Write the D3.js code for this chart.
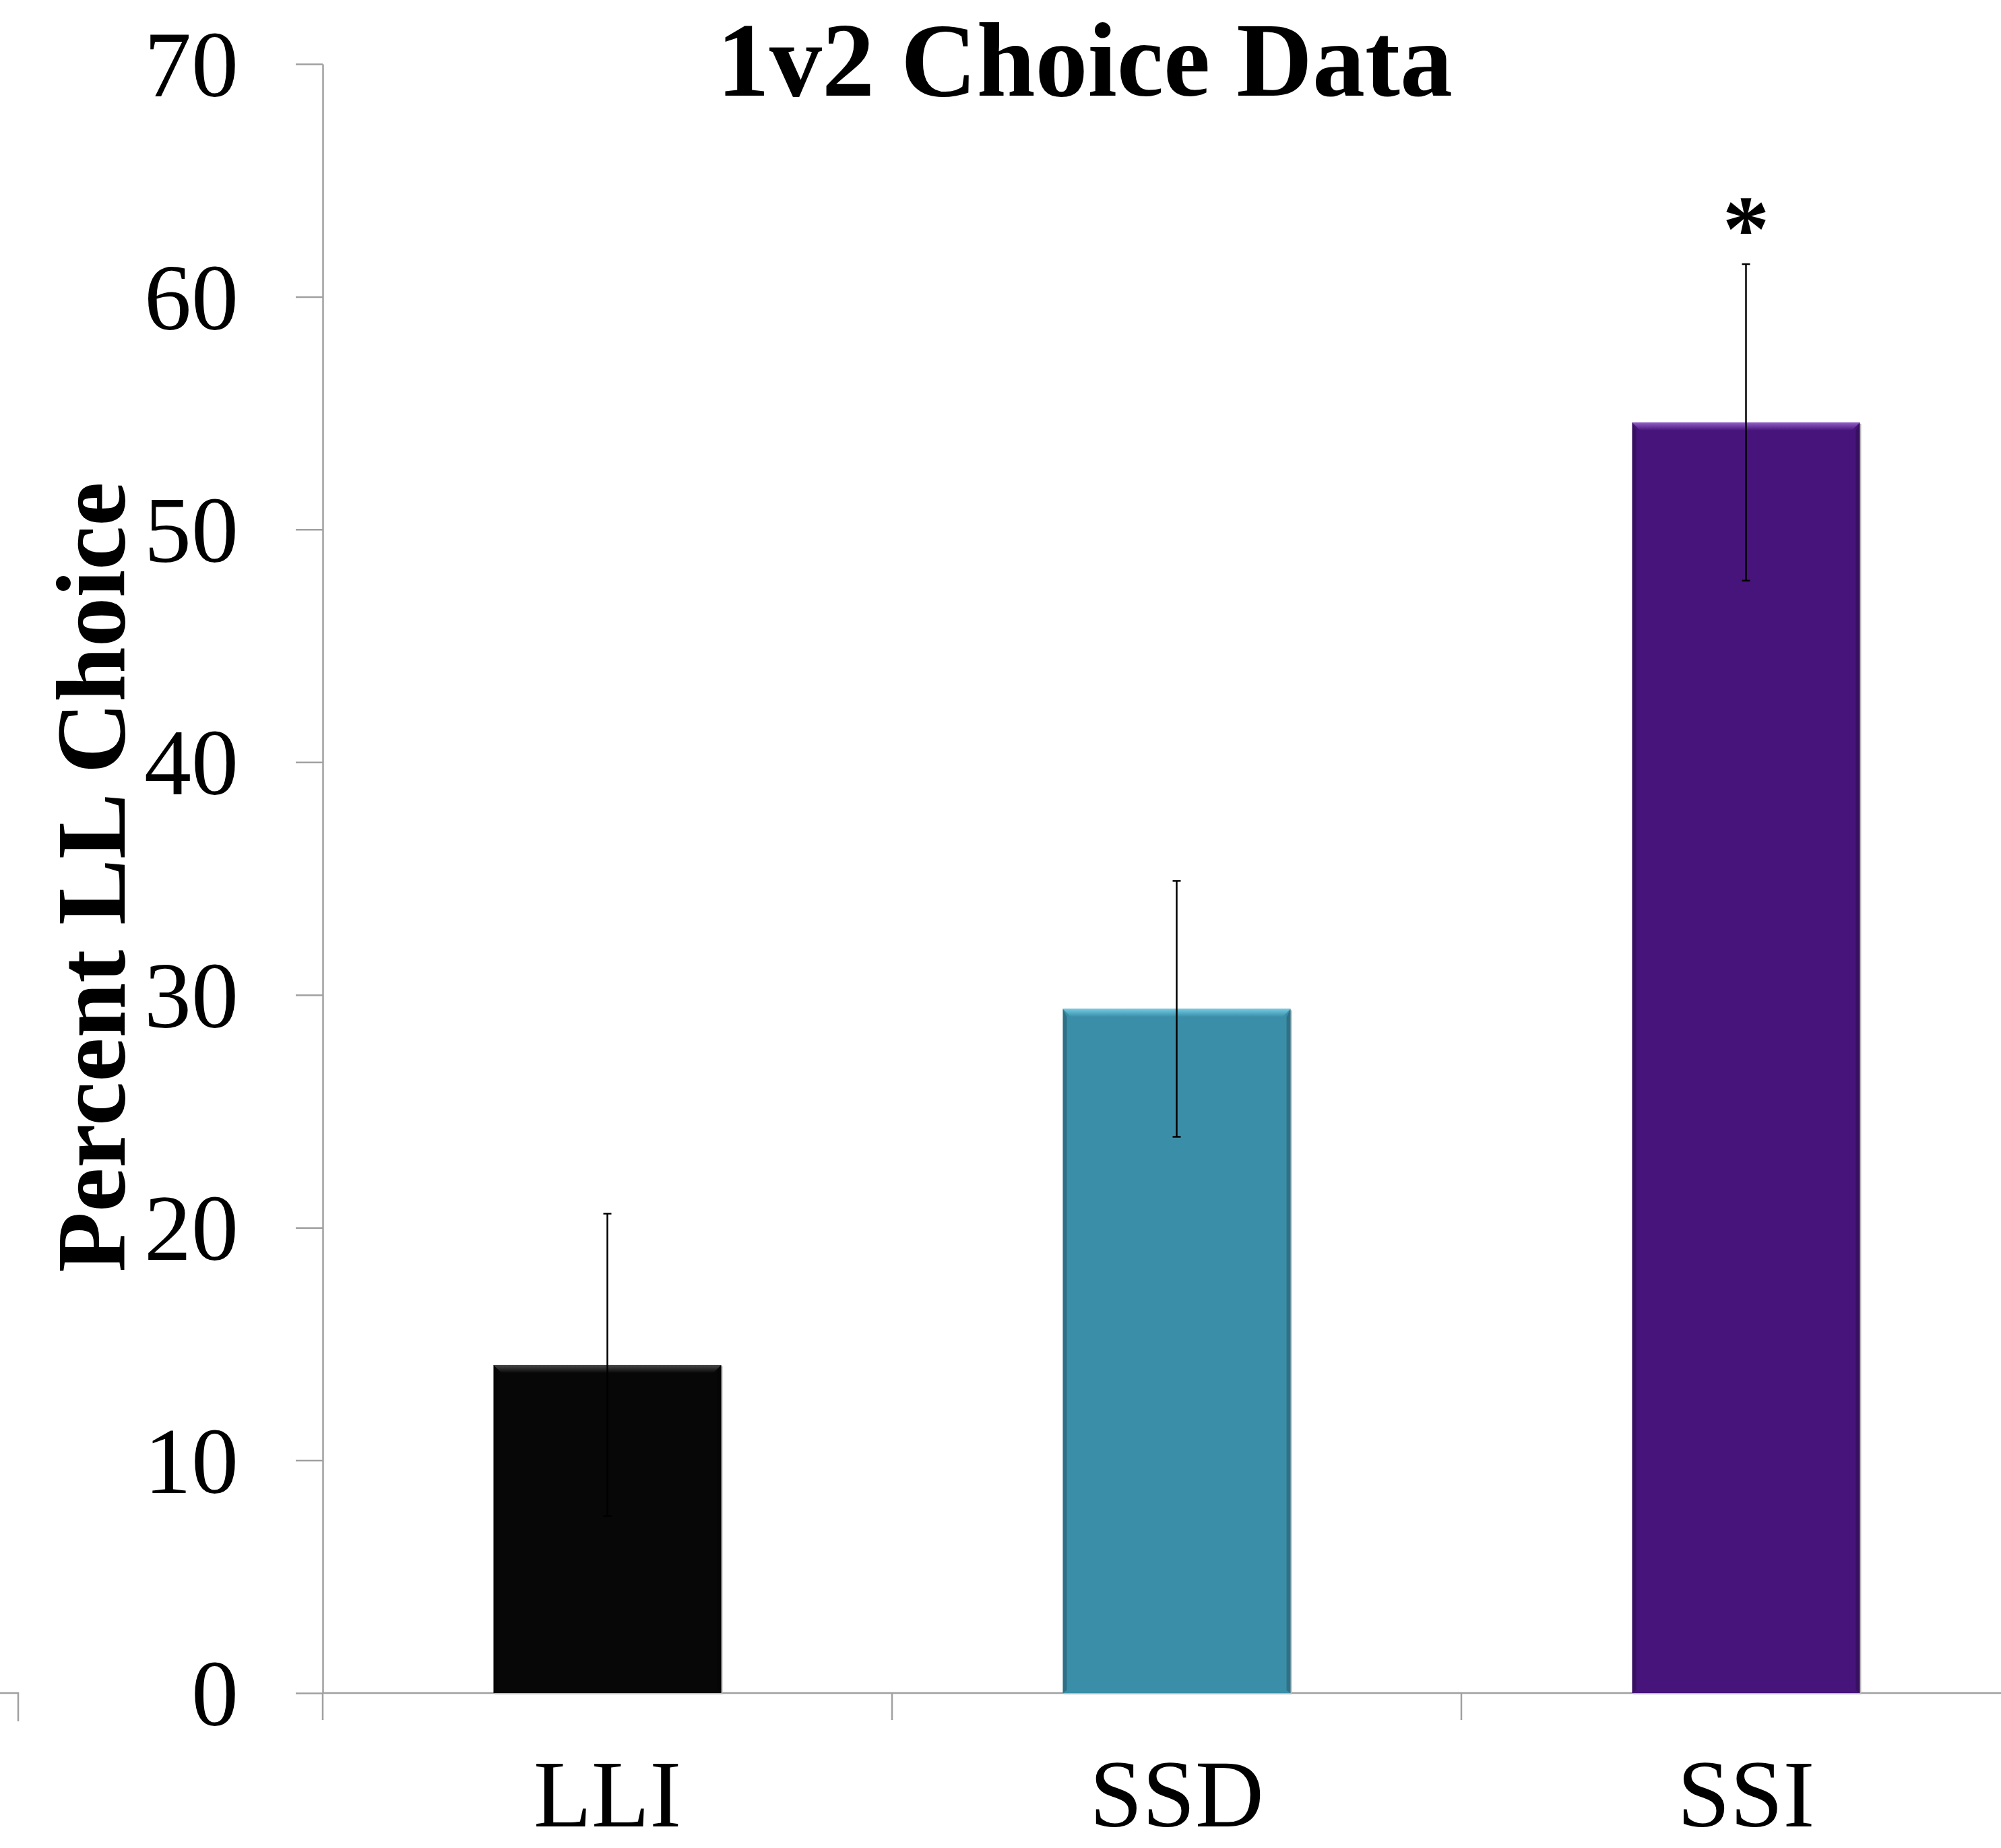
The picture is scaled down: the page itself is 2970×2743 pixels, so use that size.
<!DOCTYPE html>
<html lang="en">
<head>
  <meta charset="UTF-8">
  <title>1v2 Choice Data</title>
  <style>
    body { margin: 0; background: #fff; }
    svg { display: block; }
    .tick-label { font-family: "Liberation Serif", "Times New Roman", serif; fill: #000; }
  </style>
  <script src="https://d3js.org/d3.v7.min.js"></script>
</head>
<body>
  <div id="chart"></div>
  <script>
    // ---- data ----
    const categories = ["LLI", "SSD", "SSI"];
    const means = [14.1, 29.4, 54.6];
    const errors = [6.5, 5.5, 6.8];
    const significant = [false, false, true];
    const yTicks = [0, 10, 20, 30, 40, 50, 60, 70];

    const barColours = ["#070707", "#3a8ea8", "#46147a"];
    const bevelColours = ["#4a4a4a", "#72cbe3", "#9460c8"];

    // ---- setup ----
    const width = 2970, height = 2743;
    const plotLeft = 479, plotBottom = 2513, plotTop = 95;
    const step = 845;

    const svg = d3.select("#chart").append("svg")
      .attr("width", width)
      .attr("height", height);

    const x = d3.scaleBand()
      .domain(categories)
      .range([plotLeft, plotLeft + step * categories.length])
      .padding(0);

    const y = d3.scaleLinear()
      .domain([0, 70])
      .range([plotBottom, plotTop]);

    const barW = x.bandwidth() * 0.4;
    const barX = c => x(c) + (x.bandwidth() - barW) / 2;
    const cx = c => x(c) + x.bandwidth() / 2;

    // gradients for the bevel top strip
    const defs = svg.append("defs");
    categories.forEach((c, i) => {
      const g = defs.append("linearGradient")
        .attr("id", "bev" + i)
        .attr("x1", 0).attr("y1", 0).attr("x2", 0).attr("y2", 1);
      g.append("stop").attr("offset", "0%").attr("stop-color", bevelColours[i]);
      g.append("stop").attr("offset", "100%").attr("stop-color", barColours[i]);
    });

    // ---- y axis ----
    const yAxis = d3.axisLeft(y)
      .tickValues(yTicks)
      .tickSize(40)
      .tickSizeOuter(0)
      .tickPadding(85);

    const yG = svg.append("g")
      .attr("transform", `translate(${plotLeft},0)`)
      .call(yAxis);
    yG.select(".domain").attr("stroke", "#a0a0a0").attr("stroke-width", 2.5);
    yG.selectAll(".tick line").attr("stroke", "#a0a0a0").attr("stroke-width", 2.5);
    yG.selectAll(".tick text")
      .attr("class", "tick-label")
      .attr("font-size", 140)
      .attr("dy", "0.34em");

    // ---- x axis (line + ticks at band edges) ----
    svg.append("line")
      .attr("x1", plotLeft).attr("x2", width)
      .attr("y1", y(0)).attr("y2", y(0))
      .attr("stroke", "#a0a0a0").attr("stroke-width", 2.5);

    svg.selectAll(".xtick")
      .data(categories)
      .join("line")
      .attr("class", "xtick")
      .attr("x1", d => x(d)).attr("x2", d => x(d))
      .attr("y1", y(0)).attr("y2", y(0) + 40)
      .attr("stroke", "#a0a0a0").attr("stroke-width", 2.5);

    // stray axis fragment at left edge
    svg.append("path")
      .attr("d", `M0,${y(0)}H27V${y(0) + 42}`)
      .attr("fill", "none")
      .attr("stroke", "#a0a0a0").attr("stroke-width", 2.5);

    svg.selectAll(".xlabel")
      .data(categories)
      .join("text")
      .attr("class", "tick-label")
      .attr("x", d => cx(d))
      .attr("y", 2711)
      .attr("text-anchor", "middle")
      .attr("font-size", 141)
      .text(d => d);

    // ---- bars ----
    const bars = svg.selectAll(".bar")
      .data(categories)
      .join("g")
      .attr("class", "bar");

    // soft shadow
    bars.append("rect")
      .attr("x", d => barX(d) + 2)
      .attr("y", (d, i) => y(means[i]) + 2)
      .attr("width", barW)
      .attr("height", (d, i) => y(0) - y(means[i]))
      .attr("fill", "#bbb");

    bars.append("rect")
      .attr("x", d => barX(d))
      .attr("y", (d, i) => y(means[i]))
      .attr("width", barW)
      .attr("height", (d, i) => y(0) - y(means[i]))
      .attr("fill", (d, i) => barColours[i]);

    // bevel: top strip and darker sides
    const bev = 12;
    bars.append("path")
      .attr("d", (d, i) => {
        const x0 = barX(d), x1 = x0 + barW, t = y(means[i]);
        return `M${x0},${t}H${x1}L${x1 - bev},${t + bev}H${x0 + bev}Z`;
      })
      .attr("fill", (d, i) => `url(#bev${i})`);

    bars.append("path")
      .attr("d", (d, i) => {
        const x0 = barX(d), x1 = x0 + barW, t = y(means[i]), b = y(0);
        return `M${x0},${t}L${x0 + 6},${t + bev}V${b - 4}L${x0},${b}Z` +
               `M${x1},${t}L${x1 - 6},${t + bev}V${b - 4}L${x1},${b}Z`;
      })
      .attr("fill", "#000")
      .attr("opacity", 0.2);

    // ---- error bars ----
    const err = svg.selectAll(".err")
      .data(categories)
      .join("g")
      .attr("class", "err")
      .attr("stroke", "#000")
      .attr("stroke-width", 2.5);

    err.append("line")
      .attr("x1", d => cx(d)).attr("x2", d => cx(d))
      .attr("y1", (d, i) => y(means[i] + errors[i]))
      .attr("y2", (d, i) => y(means[i] - errors[i]));

    err.append("line")
      .attr("x1", d => cx(d) - 6).attr("x2", d => cx(d) + 6)
      .attr("y1", (d, i) => y(means[i] + errors[i]))
      .attr("y2", (d, i) => y(means[i] + errors[i]));

    err.append("line")
      .attr("x1", d => cx(d) - 6).attr("x2", d => cx(d) + 6)
      .attr("y1", (d, i) => y(means[i] - errors[i]))
      .attr("y2", (d, i) => y(means[i] - errors[i]));

    // ---- significance marker ----
    svg.selectAll(".star")
      .data(categories.filter((d, i) => significant[i]))
      .join("text")
      .attr("class", "tick-label")
      .attr("x", d => cx(d))
      .attr("y", d => {
        const i = categories.indexOf(d);
        return y(means[i] + errors[i]) - 5;
      })
      .attr("text-anchor", "middle")
      .attr("font-size", 140)
      .attr("font-weight", "bold")
      .text("*");

    // ---- titles ----
    svg.append("text")
      .attr("class", "tick-label")
      .attr("x", 1610)
      .attr("y", 142)
      .attr("text-anchor", "middle")
      .attr("font-size", 156)
      .attr("font-weight", "bold")
      .text("1v2 Choice Data");

    svg.append("text")
      .attr("class", "tick-label")
      .attr("transform", "translate(185,1302) rotate(-90)")
      .attr("text-anchor", "middle")
      .attr("font-size", 147)
      .attr("font-weight", "bold")
      .text("Percent LL Choice");
  </script>
</body>
</html>
